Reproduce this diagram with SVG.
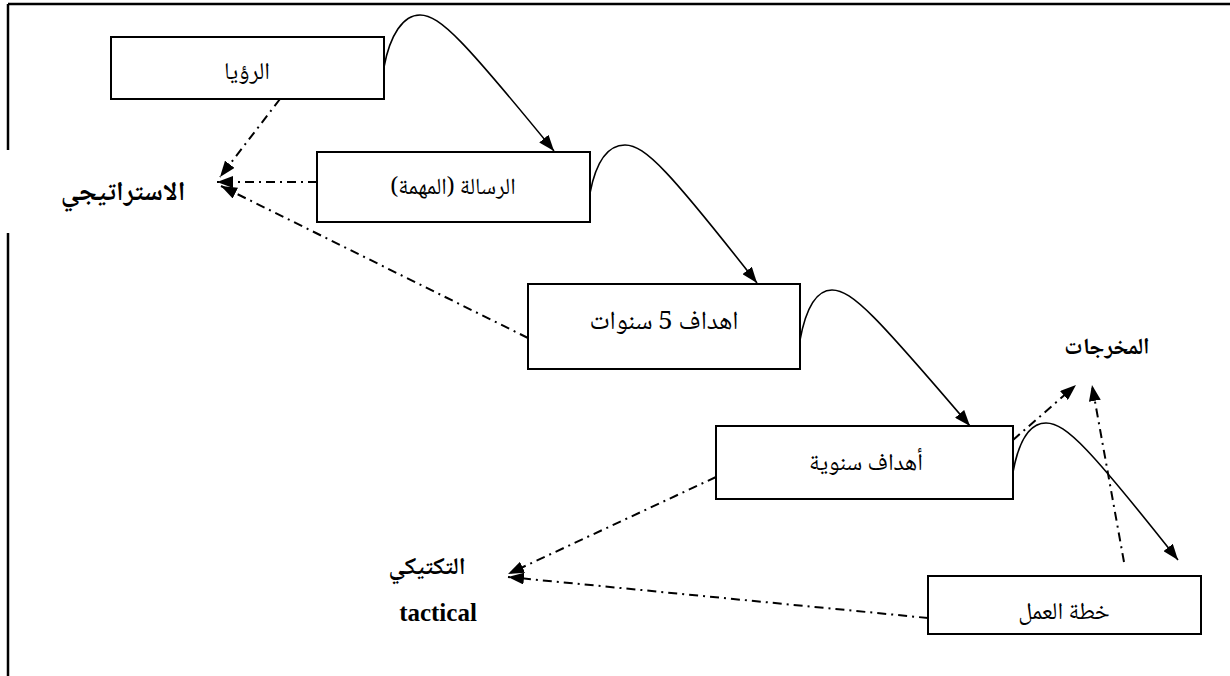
<svg xmlns="http://www.w3.org/2000/svg" width="1230" height="676" viewBox="0 0 1230 676">
  <style>
    .box { fill: #ffffff; stroke: #000000; stroke-width: 2; }
    .frame { stroke: #000000; stroke-width: 2.5; fill: none; }
    .flow { fill: none; stroke: #000000; stroke-width: 1.6; marker-end: url(#head); }
    .link { fill: none; stroke: #000000; stroke-width: 2; stroke-dasharray: 9 5 2 5; marker-end: url(#head); }
    .ar { font-family: "Noto Naskh Arabic", "Noto Sans Arabic", "DejaVu Sans", sans-serif; font-size: 24px; fill: #000; text-anchor: middle; direction: rtl; }
    .arb { font-family: "Noto Naskh Arabic", "Noto Sans Arabic", "DejaVu Sans", sans-serif; font-size: 24px; font-weight: bold; fill: #000; text-anchor: middle; direction: rtl; }
    .en { font-family: "Liberation Serif", "Times New Roman", serif; font-size: 25px; font-weight: bold; fill: #000; text-anchor: middle; }
  </style>
  <defs>
    <marker id="head" viewBox="0 0 16 12" refX="16" refY="6" markerWidth="16" markerHeight="12" markerUnits="userSpaceOnUse" orient="auto">
      <path d="M0,0 L16,6 L0,12 Z" fill="#000"/>
    </marker>
  </defs>
  <rect width="1230" height="676" fill="#ffffff"/>

  <!-- page frame -->
  <g id="frame">
    <line class="frame" x1="8" y1="4" x2="1230" y2="4"/>
    <line class="frame" x1="8" y1="4" x2="8" y2="150"/>
    <line class="frame" x1="8" y1="233" x2="8" y2="676"/>
  </g>

  <!-- connectors -->
  <g id="connectors">
    <path class="flow" d="M384,67 C390,35 403,15 420,15 C440,15 465,42 554,151"/>
    <path class="flow" d="M590,193 C596,162 608,145 625,145 C645,145 670,172 757,283"/>
    <path class="flow" d="M800,340 C806,308 817,290 832,290 C852,290 877,317 970,426"/>
    <path class="flow" d="M1013,472 C1019,440 1030,423 1046,423 C1066,423 1091,450 1178,560"/>

    <line class="link" x1="280" y1="99" x2="220" y2="177"/>
    <line class="link" x1="317" y1="182" x2="217" y2="182"/>
    <line class="link" x1="528" y1="338" x2="221" y2="186"/>

    <line class="link" x1="716" y1="477" x2="508" y2="574"/>
    <line class="link" x1="928" y1="618" x2="508" y2="577"/>

    <line class="link" x1="1013" y1="440" x2="1076" y2="385"/>
    <line class="link" x1="1124" y1="562" x2="1092" y2="385"/>
  </g>

  <g id="vision">
    <rect class="box" x="111" y="37" width="273" height="62"/>
    <text class="ar" x="247" y="79">الرؤيا</text>
  </g>
  <g id="mission">
    <rect class="box" x="317" y="152" width="273" height="70"/>
    <text class="ar" x="453" y="194" style="font-size:23px">الرسالة (المهمة)</text>
  </g>
  <g id="five-year-goals">
    <rect class="box" x="528" y="284" width="272" height="85"/>
    <text class="ar" x="664" y="329" style="font-size:26px">اهداف 5 سنوات</text>
  </g>
  <g id="annual-goals">
    <rect class="box" x="716" y="426" width="297" height="73"/>
    <text class="ar" x="866" y="470">أهداف سنوية</text>
  </g>
  <g id="action-plan">
    <rect class="box" x="928" y="576" width="273" height="58"/>
    <text class="ar" x="1064" y="619">خطة العمل</text>
  </g>

  <g id="strategic">
    <text class="arb" x="123" y="200" style="font-size:27px">الاستراتيجي</text>
  </g>
  <g id="outputs">
    <text class="arb" x="1107" y="354" style="font-size:23px">المخرجات</text>
  </g>
  <g id="tactical">
    <text class="arb" x="427" y="574">التكتيكي</text>
    <text class="en" x="438" y="621">tactical</text>
  </g>
</svg>
